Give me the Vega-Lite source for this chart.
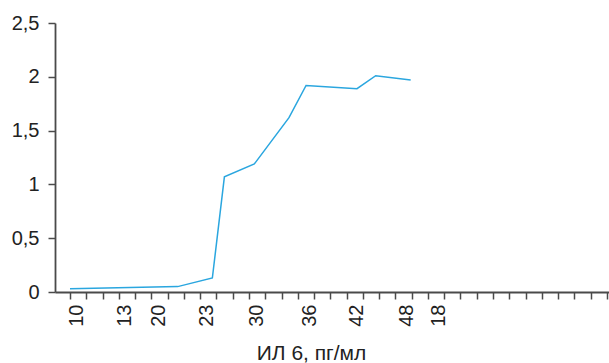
{
  "$schema": "https://vega.github.io/schema/vega-lite/v6.json",
  "autosize": "none",
  "width": 554,
  "height": 269,
  "padding": {"left": 55, "top": 23, "right": 0, "bottom": 71},
  "background": "white",
  "config": {
    "view": {"stroke": null},
    "axis": {"labelFont": "Liberation Sans", "titleFont": "Liberation Sans", "labelFontSize": 20, "titleFontSize": 21, "labelColor": "#222", "titleColor": "#222", "titleFontWeight": "normal", "domainColor": "#4a4a4a", "tickColor": "#4a4a4a", "domainWidth": 1.8, "tickWidth": 1.5, "grid": false}
  },
  "data": {
    "values": [
      {"x": 0, "y": 0.03},
      {"x": 6.62, "y": 0.05},
      {"x": 8.75, "y": 0.13},
      {"x": 9.49, "y": 1.07},
      {"x": 11.33, "y": 1.19},
      {"x": 13.46, "y": 1.62},
      {"x": 14.51, "y": 1.92},
      {"x": 17.64, "y": 1.89},
      {"x": 18.79, "y": 2.01},
      {"x": 20.94, "y": 1.97}
    ]
  },
  "mark": {"type": "line", "color": "#2aa6df", "strokeWidth": 1.5},
  "encoding": {
    "x": {
      "field": "x",
      "type": "quantitative",
      "scale": {"domain": [-0.922, 33.13], "nice": false, "zero": false},
      "axis": {
        "title": "ИЛ 6, пг/мл",
        "titleX": 256,
        "titleY": 67,
        "titleAlign": "center",
        "titleBaseline": "alphabetic",
        "titleAnchor": null,
        "values": [0,1,2,3,4,5,6,7,8,9,10,11,12,13,14,15,16,17,18,19,20,21,22,23,24,25,26,27,28,29,30,31,32,33,0.37,3.38,5.43,8.4,11.48,14.75,17.62,20.69,22.64],
        "tickSize": 7,
        "tickOpacity": {"condition": {"test": "datum.value % 1 != 0", "value": 0}, "value": 1},
        "labelAngle": -90,
        "labelPadding": 5,
        "labelOverlap": false,
        "labelFlush": false,
        "labelBound": false,
        "labelExpr": "datum.value == 0.37 ? '10' : datum.value == 3.38 ? '13' : datum.value == 5.43 ? '20' : datum.value == 8.4 ? '23' : datum.value == 11.48 ? '30' : datum.value == 14.75 ? '36' : datum.value == 17.62 ? '42' : datum.value == 20.69 ? '48' : datum.value == 22.64 ? '18' : ''"
      }
    },
    "y": {
      "field": "y",
      "type": "quantitative",
      "scale": {"domain": [0, 2.5], "nice": false},
      "axis": {
        "title": null,
        "values": [0, 0.5, 1, 1.5, 2, 2.5],
        "tickSize": 7,
        "labelPadding": 9,
        "labelExpr": "replace(toString(datum.value), '.', ',')"
      }
    }
  }
}
